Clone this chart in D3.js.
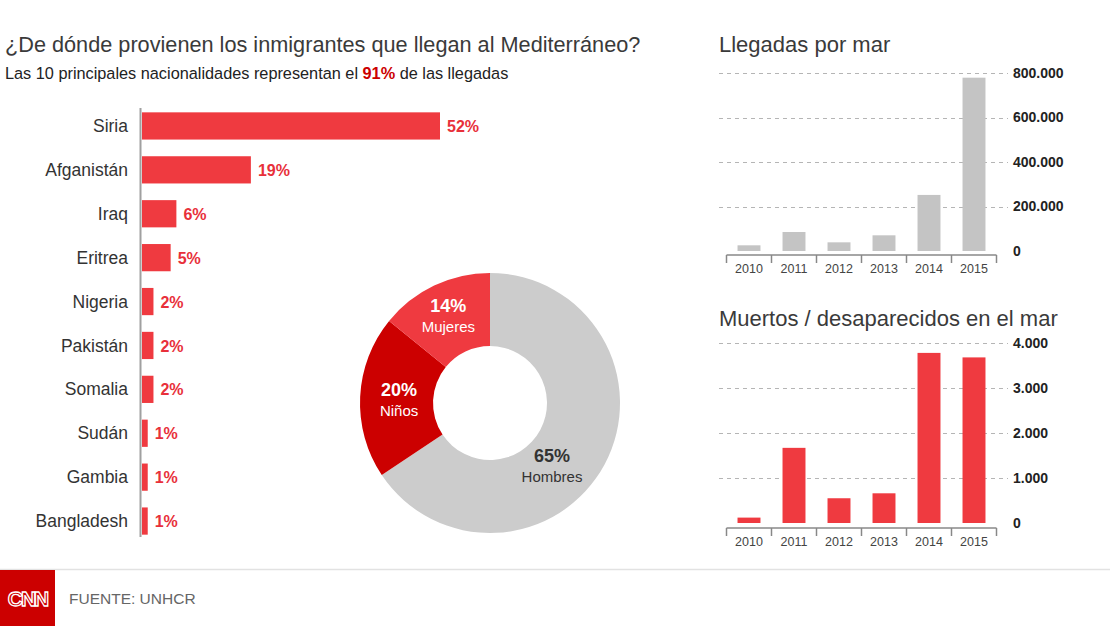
<!DOCTYPE html>
<html><head><meta charset="utf-8">
<script src="https://cdn.jsdelivr.net/npm/d3@7"></script>
<style>
html,body{margin:0;padding:0;background:#fff;}
svg{display:block;font-family:"Liberation Sans",Arial,Helvetica,sans-serif;}
</style></head>
<body><svg id="c" width="1110" height="626"></svg>
<script>
// ---- data ----
const countries = ["Siria","Afganistán","Iraq","Eritrea","Nigeria","Pakistán","Somalia","Sudán","Gambia","Bangladesh"];
const countryShare = [52,19,6,5,2,2,2,1,1,1];

const genderLabels = ["Hombres","Niños","Mujeres"];
const genderShare = [65,20,14];

const years = ["2010","2011","2012","2013","2014","2015"];
const seaArrivals = [25600,85400,39000,70500,252000,779000];
const arrivalTicks = [0,200000,400000,600000,800000];

const deaths = [120,1670,550,660,3780,3680];
const deathTicks = [0,1000,2000,3000,4000];

// ---- drawing ----
const svg = d3.select("#c");
const RED = "#ef3a40", DARK = "#cc0000", GREY = "#cccccc", TXT = "#333";
const fmt = d3.formatLocale({decimal:",",thousands:".",grouping:[3],currency:["",""]}).format(",d");

// Titles
svg.append("text").attr("x",5).attr("y",52).attr("font-size",21.7).attr("fill","#3a3a3a")
  .text("¿De dónde provienen los inmigrantes que llegan al Mediterráneo?");
const sub = svg.append("text").attr("x",5).attr("y",79).attr("font-size",16.3).attr("fill","#222");
sub.append("tspan").text("Las 10 principales nacionalidades representan el ");
sub.append("tspan").attr("font-weight","bold").attr("fill",DARK).text("91%");
sub.append("tspan").text(" de las llegadas");

// Horizontal bar chart
const x = d3.scaleLinear().domain([0,52]).range([142,440]);
const y = d3.scaleBand().domain(countries).range([104,543]).paddingInner(0.38).paddingOuter(0.19);
const rows = countries.map((c,i)=>({c,v:countryShare[i]}));
svg.append("g").selectAll("rect").data(rows).join("rect")
  .attr("x",x(0)).attr("y",d=>y(d.c)).attr("width",d=>x(d.v)-x(0)).attr("height",y.bandwidth())
  .attr("fill",RED);
svg.append("line").attr("x1",140.5).attr("x2",140.5).attr("y1",108).attr("y2",537)
  .attr("stroke","#a0a0a0").attr("stroke-width",2);
svg.append("g").selectAll("text").data(rows).join("text")
  .attr("x",128).attr("y",d=>y(d.c)+y.bandwidth()/2).attr("dy","0.35em")
  .attr("text-anchor","end").attr("font-size",17.5).attr("fill",TXT).text(d=>d.c);
svg.append("g").selectAll("text").data(rows).join("text")
  .attr("x",d=>x(d.v)+7).attr("y",d=>y(d.c)+y.bandwidth()/2).attr("dy","0.38em")
  .attr("font-size",16).attr("font-weight","bold").attr("fill","#e8303a").text(d=>d.v+"%");

// Donut
const cx = 490, cy = 403;
const pie = d3.pie().sort(null).value(d=>d.v);
const gd = genderLabels.map((l,i)=>({l,v:genderShare[i]}));
const arcs = pie(gd);
const arc = d3.arc().innerRadius(57).outerRadius(130);
const colors = [GREY, DARK, RED];
const dg = svg.append("g").attr("transform",`translate(${cx},${cy})`);
dg.selectAll("path").data(arcs).join("path").attr("d",arc).attr("fill",(d,i)=>colors[i]);
const labelPos = [
  d3.arc().innerRadius(88).outerRadius(88).startAngle(2.36).endAngle(2.36),
  d3.arc().innerRadius(91).outerRadius(91),
  d3.arc().innerRadius(97).outerRadius(97)
];
arcs.forEach((a,i)=>{
  const c = i===0 ? labelPos[0].centroid() : labelPos[i].centroid(a);
  const fill = i===0 ? "#333" : "#fff";
  const t = dg.append("text").attr("text-anchor","middle").attr("fill",fill)
    .attr("transform",`translate(${c[0]},${c[1]})`);
  t.append("tspan").attr("x",0).attr("y",-3).attr("font-size",18).attr("font-weight","bold").text(a.data.v+"%");
  t.append("tspan").attr("x",0).attr("y",17).attr("font-size",15).text(a.data.l);
});

// Vertical bar charts
function columnChart(opts){
  const {title, titleY, values, ticks, max, y0, y1, axisY, fill} = opts;
  svg.append("text").attr("x",719).attr("y",titleY).attr("font-size",22).attr("fill","#3a3a3a").text(title);
  const xb = d3.scaleBand().domain(years).range([726.5,996.5]).paddingInner(0.49).paddingOuter(0.245);
  const yl = d3.scaleLinear().domain([0,max]).range([y0,y1]);
  const g = svg.append("g");
  g.selectAll("line.grid").data(ticks.filter(t=>t>0)).join("line").attr("class","grid")
    .attr("x1",719).attr("x2",1008).attr("y1",d=>Math.round(yl(d))+0.5).attr("y2",d=>Math.round(yl(d))+0.5)
    .attr("stroke","#b5b5b5").attr("stroke-dasharray","4,4");
  g.selectAll("rect").data(values).join("rect")
    .attr("x",(d,i)=>xb(years[i])).attr("y",d=>yl(d)).attr("width",xb.bandwidth()).attr("height",d=>yl(0)-yl(d))
    .attr("fill",fill);
  g.selectAll("text.yt").data(ticks).join("text").attr("class","yt")
    .attr("x",1013).attr("y",d=>yl(d)).attr("dy","0.35em")
    .attr("font-size",14).attr("font-weight","bold").attr("fill","#222").text(d=>fmt(d));
  // bottom axis with ticks at band edges
  const edges = years.map(yv=>xb(yv)-xb.step()*xb.paddingInner()/2).concat([996.5]);
  g.append("line").attr("x1",726.5).attr("x2",996.5).attr("y1",axisY).attr("y2",axisY).attr("stroke","#888").attr("stroke-width",1.5);
  g.selectAll("line.tk").data(edges).join("line").attr("class","tk")
    .attr("x1",d=>d).attr("x2",d=>d).attr("y1",axisY).attr("y2",axisY+8).attr("stroke","#888").attr("stroke-width",1.5);
  g.selectAll("text.xl").data(years).join("text").attr("class","xl")
    .attr("x",d=>xb(d)+xb.bandwidth()/2).attr("y",axisY+18).attr("text-anchor","middle")
    .attr("font-size",12.5).attr("fill","#444").text(d=>d);
}
columnChart({title:"Llegadas por mar", titleY:52, values:seaArrivals, ticks:arrivalTicks, max:800000,
  y0:251, y1:73, axisY:255, fill:"#c4c4c4"});
columnChart({title:"Muertos / desaparecidos en el mar", titleY:326, values:deaths, ticks:deathTicks, max:4000,
  y0:523, y1:343, axisY:528, fill:RED});

// Footer
svg.append("line").attr("x1",0).attr("x2",1110).attr("y1",569.5).attr("y2",569.5).attr("stroke","#e2e2e2").attr("stroke-width",1.5);
svg.append("rect").attr("x",0).attr("y",570).attr("width",55).attr("height",56).attr("fill",DARK);
svg.append("text").attr("x",27.5).attr("y",606).attr("text-anchor","middle").attr("font-size",21)
  .attr("font-weight","bold").attr("letter-spacing",-2).attr("fill",DARK).attr("stroke","#fff").attr("stroke-width",1.3).text("CNN");
svg.append("text").attr("x",69).attr("y",604).attr("font-size",15.5).attr("fill","#666").text("FUENTE: UNHCR");
</script></body></html>
